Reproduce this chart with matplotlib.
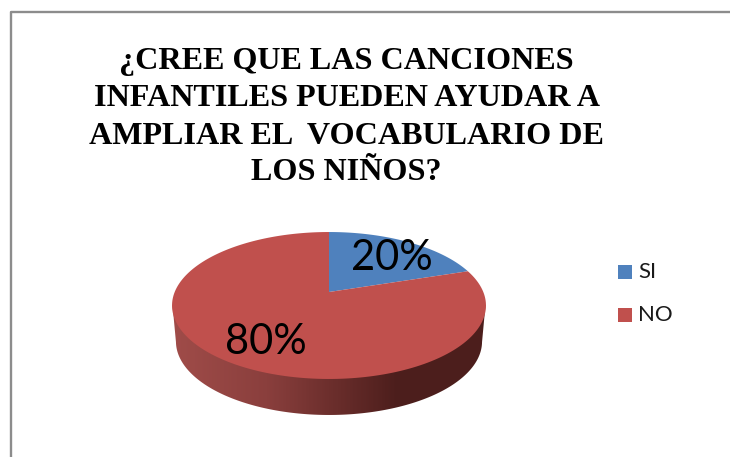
import numpy as np
import matplotlib
matplotlib.use("Agg")
import matplotlib.pyplot as plt
from matplotlib.colors import LinearSegmentedColormap
from matplotlib.patches import Polygon

labels = ["SI", "NO"]
values = [20, 80]
colors = ["#4f81bd", "#c0504d"]
title_lines = [
    "¿CREE QUE LAS CANCIONES",
    "INFANTILES PUEDEN AYUDAR A",
    "AMPLIAR EL  VOCABULARIO DE",
    "LOS NIÑOS?",
]

fig = plt.figure(figsize=(7.3, 4.57), dpi=100)
ax = fig.add_axes([0, 0, 1, 1])

# frame
ax.plot([11, 11, 730], [457, 11.5, 11.5], color="#8c8c8c", lw=1.7, solid_capstyle="butt")


# pie seen from above, circle projected to pixels
def project(u, v, cx=329, cy=292, b=154.3, a=71.0, k=0.1837):
    d = 1 + k * v
    return cx + b * u / d, cy - a * v / d


t = np.linspace(0, 2 * np.pi, 721)
top_x, top_y = project(np.sin(t), np.cos(t))

# side wall, lower rim is the same shape a bit narrower
low_x = 329 + (top_x - 329) * 0.975
low_y = top_y + 36
lower = np.where(np.cos(t) < -0.1837)[0]
order = lower[np.argsort(low_x[lower])]

wall_cmap = LinearSegmentedColormap.from_list(
    "wall",
    [(0, "#a04c49"), (0.3, "#8a3f3d"), (0.5, "#6d2f2d"), (0.72, "#4c1e1c"), (1, "#4d1f1d")],
)
grad = ax.imshow(
    np.linspace(0, 1, 314).reshape(1, -1),
    extent=[172, 486, 420, 290],
    cmap=wall_cmap,
    aspect="auto",
    zorder=1,
)
wall = Polygon(
    np.c_[np.r_[172.5, low_x[order], 485.5], np.r_[305, low_y[order], 305]],
    fc="none",
    ec="none",
)
ax.add_patch(wall)
grad.set_clip_path(wall)

# slices from the values
start = 0
for value, color in zip(values, colors):
    end = start + value / sum(values) * 2 * np.pi
    ang = np.linspace(start, end, 200)
    x, y = project(np.sin(ang), np.cos(ang))
    ax.fill(np.r_[329, x], np.r_[292, y], color=color, lw=0, zorder=2)
    start = end

# labels
ax.text(392, 258, f"{values[0]}%", fontsize=30, family="Lato", ha="center", va="center", color="black", zorder=3)
ax.text(266, 342, f"{values[1]}%", fontsize=30, family="Lato", ha="center", va="center", color="black", zorder=3)

# title
for line, yy in zip(title_lines, [61.5, 98.5, 136, 172.5]):
    ax.text(
        346.5, yy, line, fontsize=23.1, family="Liberation Serif", fontweight="bold",
        ha="center", va="center", color="black",
    )

# legend
for name, color, yy in zip(labels, colors, [272, 315]):
    ax.scatter([625.3], [yy], marker="s", s=108, color=color, lw=0, zorder=3)
    ax.text(638, yy, name, fontsize=16, family="Lato", ha="left", va="center", color="#1a1a1a")

ax.set_xlim(0, 730)
ax.set_ylim(457, 0)
ax.axis("off")

fig.savefig("out.png", dpi=100)
